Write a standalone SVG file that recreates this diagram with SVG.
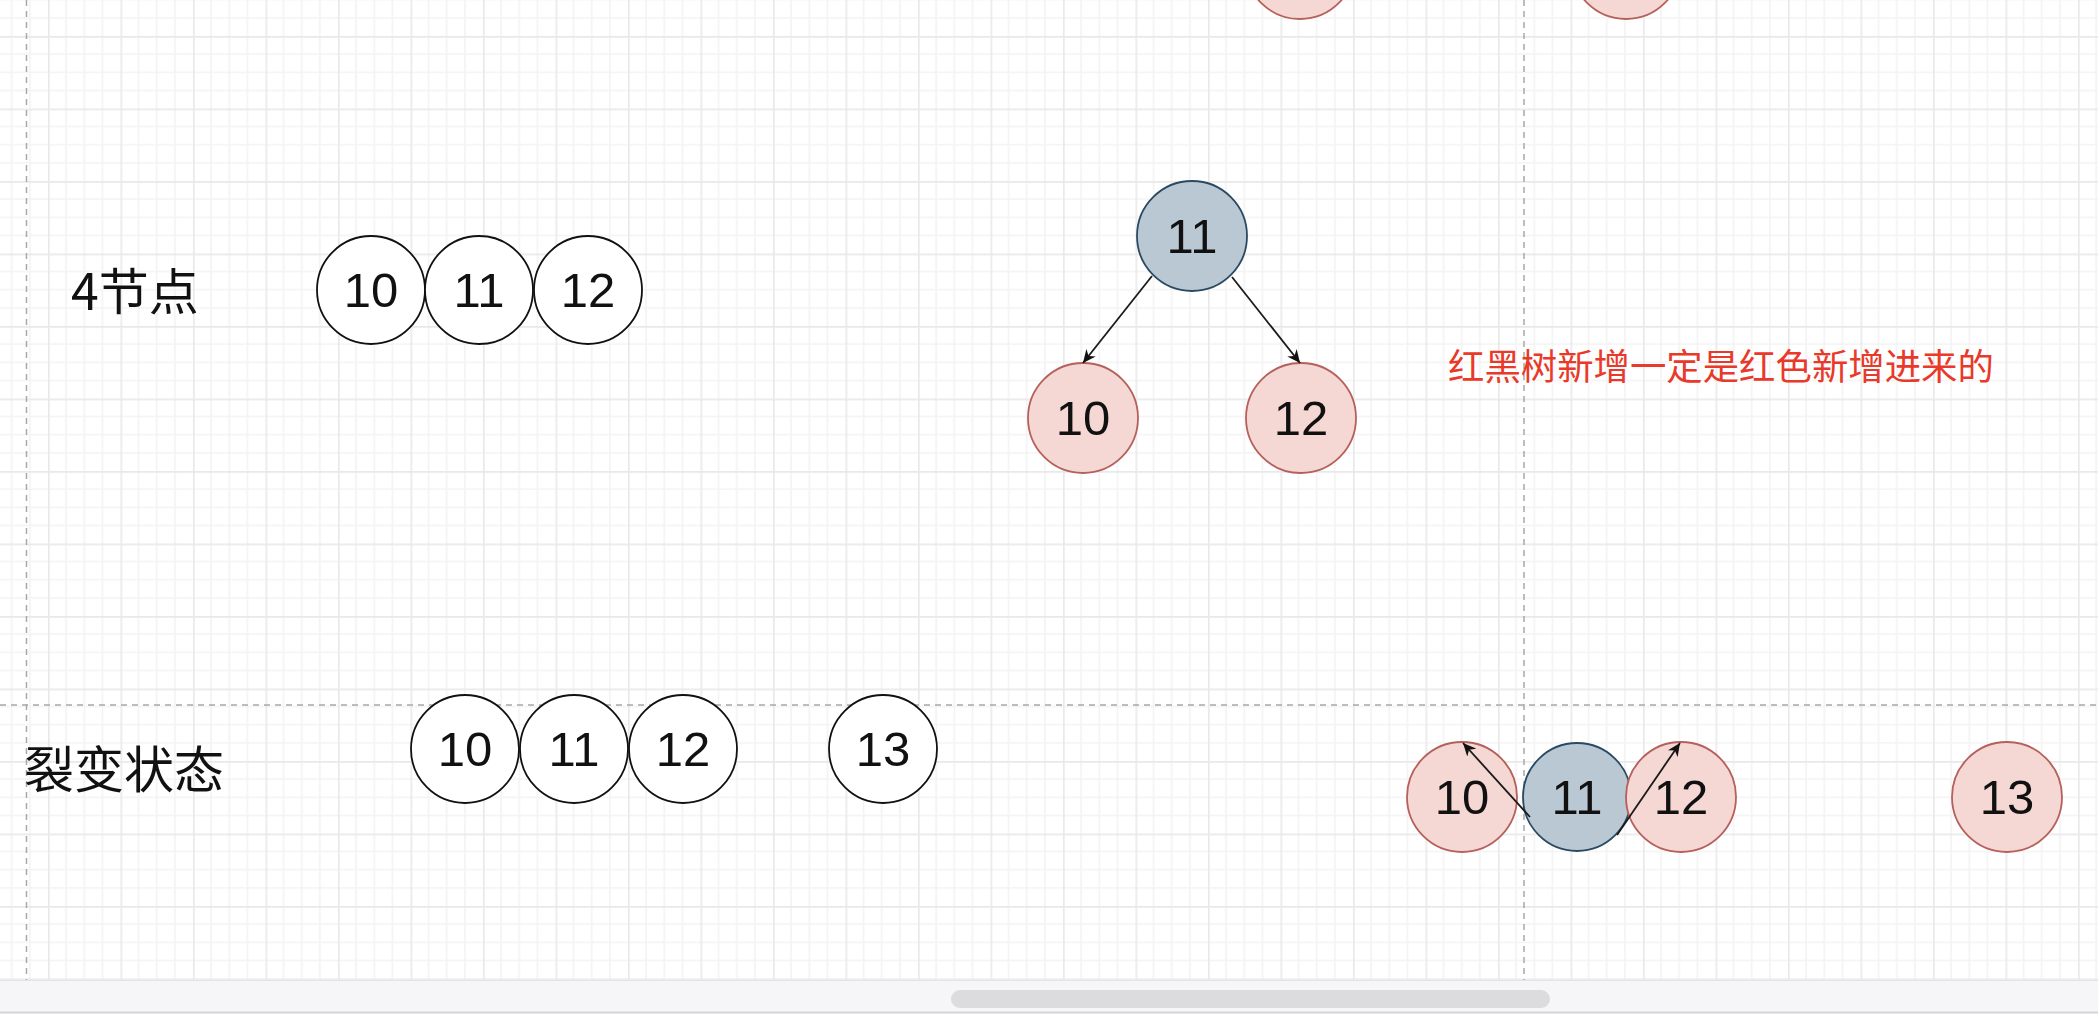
<svg xmlns="http://www.w3.org/2000/svg" width="2098" height="1014" viewBox="0 0 2098 1014">
<defs>
  <pattern id="grid" patternUnits="userSpaceOnUse" x="48" y="36" width="72.5" height="72.5">
    <rect width="72.5" height="72.5" fill="#ffffff"/>
    <path d="M18.125 0V72.5M36.25 0V72.5M54.375 0V72.5M0 18.125H72.5M0 36.25H72.5M0 54.375H72.5" stroke="#f3f3f3" stroke-width="1.5" fill="none"/>
    <path d="M0.75 0V72.5M0 0.75H72.5" stroke="#e9e9e9" stroke-width="1.8" fill="none"/>
  </pattern>
  <marker id="arrow" markerUnits="userSpaceOnUse" markerWidth="14" markerHeight="12" viewBox="0 0 14 12" refX="13" refY="6" orient="auto">
    <path d="M0,0 L13,6 L0,12 L4,6 Z" fill="#111"/>
  </marker>
</defs>
<style>
  .plain{fill:#ffffff;stroke:#111111;stroke-width:1.8}
  .red{fill:#f5d7d4;stroke:#b5605b;stroke-width:1.8}
  .black{fill:#bac8d3;stroke:#2a4a63;stroke-width:1.8}
  .num{font-family:"Liberation Sans",Arial,sans-serif;font-size:49px;fill:#111;text-anchor:middle;dominant-baseline:central}
  .label{font-family:"Noto Sans CJK SC","Liberation Sans",sans-serif;font-size:50px;fill:#111;dominant-baseline:central}
  .note{font-family:"Noto Sans CJK SC","Liberation Sans",sans-serif;font-size:36.4px;fill:#e8392a;dominant-baseline:central}
  .guide{stroke:#a8a8a8;stroke-width:1.5;stroke-dasharray:6 5;fill:none}
  .edge{stroke:#1a1a1a;stroke-width:1.8;fill:none;marker-end:url(#arrow)}
</style>

<rect x="0" y="0" width="2098" height="1014" fill="url(#grid)"/>

<g id="guides">
  <line class="guide" x1="26.5" y1="0" x2="26.5" y2="980"/>
  <line class="guide" x1="1524" y1="0" x2="1524" y2="980"/>
  <line class="guide" x1="0" y1="705" x2="2098" y2="705"/>
</g>

<g id="label-4node"><text class="label" x="71" y="288">4节点</text></g>
<g id="label-split"><text class="label" x="24" y="766">裂变状态</text></g>
<g id="note"><text class="note" x="1448" y="364">红黑树新增一定是红色新增进来的</text></g>

<g id="top-partial-a"><circle class="red" cx="1300" cy="-36" r="55"/></g>
<g id="top-partial-b"><circle class="red" cx="1626" cy="-36" r="55"/></g>

<g id="r1-10"><circle class="plain" cx="371" cy="290" r="54"/><text class="num" x="371" y="290">10</text></g>
<g id="r1-11"><circle class="plain" cx="479" cy="290" r="54"/><text class="num" x="479" y="290">11</text></g>
<g id="r1-12"><circle class="plain" cx="588" cy="290" r="54"/><text class="num" x="588" y="290">12</text></g>

<g id="tree-11"><circle class="black" cx="1192" cy="236" r="55"/><text class="num" x="1192" y="236">11</text></g>
<g id="tree-10"><circle class="red" cx="1083" cy="418" r="55"/><text class="num" x="1083" y="418">10</text></g>
<g id="tree-12"><circle class="red" cx="1301" cy="418" r="55"/><text class="num" x="1301" y="418">12</text></g>

<g id="r2-10"><circle class="plain" cx="465" cy="749" r="54"/><text class="num" x="465" y="749">10</text></g>
<g id="r2-11"><circle class="plain" cx="574" cy="749" r="54"/><text class="num" x="574" y="749">11</text></g>
<g id="r2-12"><circle class="plain" cx="683" cy="749" r="54"/><text class="num" x="683" y="749">12</text></g>
<g id="r2-13"><circle class="plain" cx="883" cy="749" r="54"/><text class="num" x="883" y="749">13</text></g>

<g id="s-11"><circle class="black" cx="1577" cy="797" r="54"/><text class="num" x="1577" y="797">11</text></g>
<g id="s-10"><circle class="red" cx="1462" cy="797" r="55"/><text class="num" x="1462" y="797">10</text></g>
<g id="s-12"><circle class="red" cx="1681" cy="797" r="55"/><text class="num" x="1681" y="797">12</text></g>
<g id="s-13"><circle class="red" cx="2007" cy="797" r="55"/><text class="num" x="2007" y="797">13</text></g>

<g id="connectors">
  <line class="edge" x1="1152" y1="276" x2="1083" y2="363"/>
  <line class="edge" x1="1232" y1="277" x2="1300" y2="363"/>
  <line class="edge" x1="1530" y1="817" x2="1463" y2="743"/>
  <line class="edge" x1="1617" y1="835" x2="1680" y2="743"/>
</g>

<g id="footer">
  <rect x="0" y="980" width="2098" height="34" fill="#f6f6f8"/>
  <line x1="0" y1="980.5" x2="2098" y2="980.5" stroke="#e4e4e6" stroke-width="1"/>
  <rect x="951" y="990" width="599" height="18" rx="9" fill="#dcdcdf"/>
  <line x1="0" y1="1012.5" x2="2098" y2="1012.5" stroke="#d6d6d8" stroke-width="2"/>
</g>
</svg>
